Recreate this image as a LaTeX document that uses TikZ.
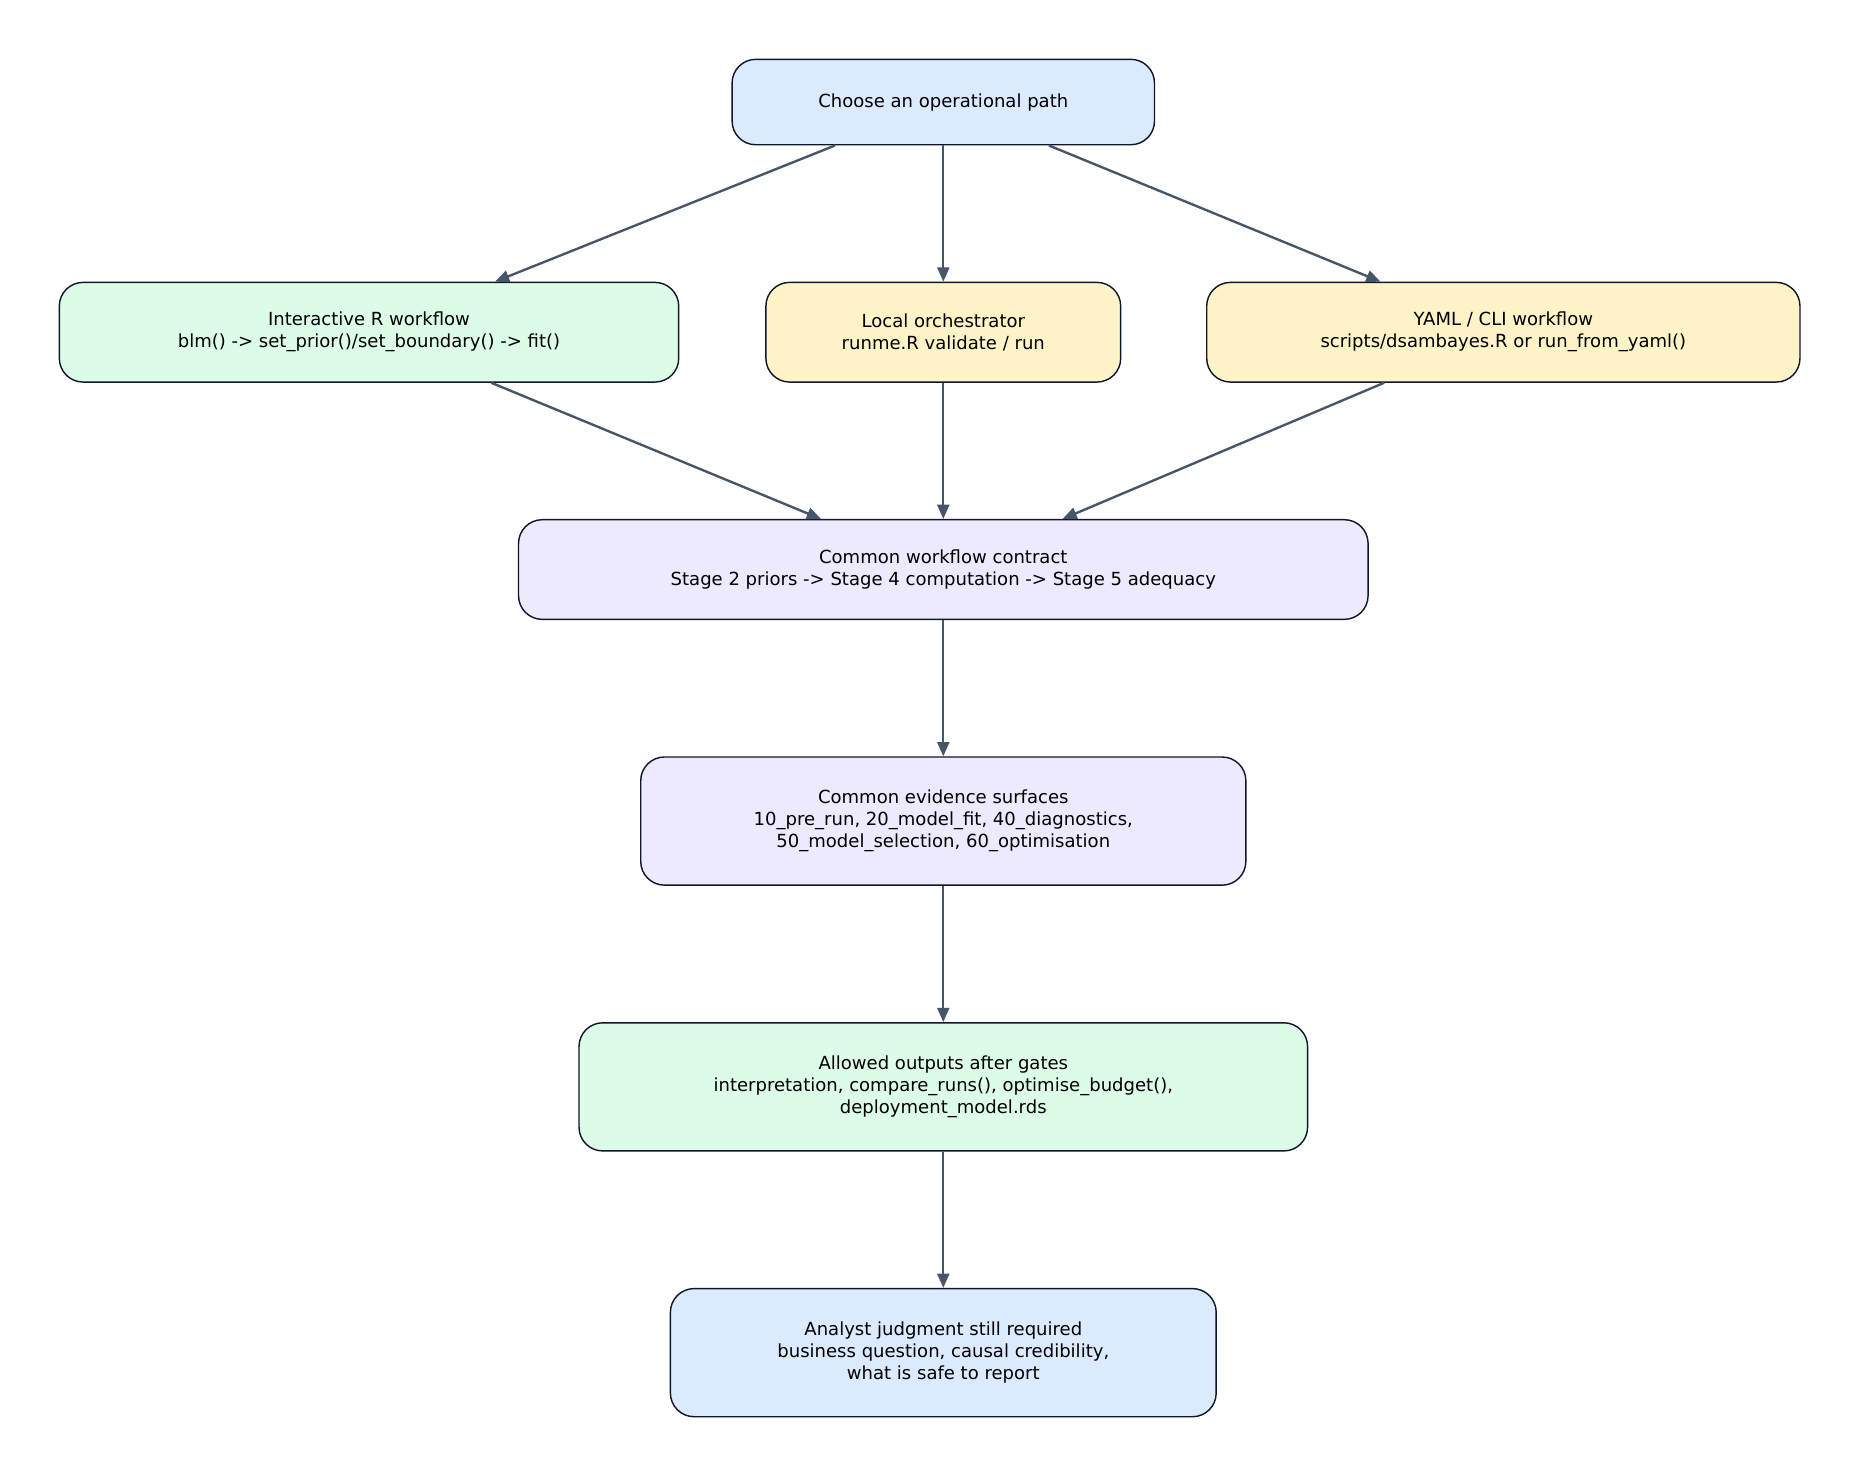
\documentclass[tikz,border=0pt]{standalone}
\usepackage{fontspec}
\setmainfont{DejaVu Sans}
\usetikzlibrary{arrows.meta}
\definecolor{cblue}{HTML}{DBEAFE}
\definecolor{cgreen}{HTML}{DCFCE7}
\definecolor{cyellow}{HTML}{FEF3C7}
\definecolor{cpurple}{HTML}{EDE9FE}
\definecolor{cedge}{HTML}{475569}
\definecolor{cborder}{HTML}{0F172A}
\begin{document}
\begin{tikzpicture}[x=0.5pt,y=-0.5pt,
  box/.style={draw=cborder,line width=0.6pt,rounded corners=10pt,align=center,
    font=\fontsize{7.6pt}{9.3pt}\selectfont,inner sep=0pt},
  conn/.style={draw=cedge,line width=1pt,-{Triangle[length=6pt,width=5pt]}}]
\useasboundingbox (0,0) rectangle (1560,1240);
\fill[white] (0,0) rectangle (1560,1240);
\node[box,fill=cblue,minimum width=178pt,minimum height=36pt] (top) at (795,86) {Choose an operational path};
\node[box,fill=cgreen,minimum width=261pt,minimum height=42pt] (ia) at (311,280) {Interactive R workflow\\blm() -> set\_prior()/set\_boundary() -> fit()};
\node[box,fill=cyellow,minimum width=149.5pt,minimum height=42pt] (lo) at (795,280) {Local orchestrator\\runme.R validate / run};
\node[box,fill=cyellow,minimum width=250pt,minimum height=42pt] (ya) at (1267,280) {YAML / CLI workflow\\scripts/dsambayes.R or run\_from\_yaml()};
\node[box,fill=cpurple,minimum width=358pt,minimum height=42pt] (cc) at (795,480) {Common workflow contract\\Stage 2 priors -> Stage 4 computation -> Stage 5 adequacy};
\node[box,fill=cpurple,minimum width=255pt,minimum height=54pt] (ev) at (795,692) {Common evidence surfaces\\10\_pre\_run, 20\_model\_fit, 40\_diagnostics,\\50\_model\_selection, 60\_optimisation};
\node[box,fill=cgreen,minimum width=307pt,minimum height=54pt] (al) at (795,916) {Allowed outputs after gates\\interpretation, compare\_runs(), optimise\_budget(),\\deployment\_model.rds};
\node[box,fill=cblue,minimum width=230pt,minimum height=54pt] (an) at (795,1140) {Analyst judgment still required\\business question, causal credibility,\\what is safe to report};
\draw[conn] (top) -- (ia);
\draw[conn] (top) -- (lo);
\draw[conn] (top) -- (ya);
\draw[conn] (ia) -- (cc);
\draw[conn] (lo) -- (cc);
\draw[conn] (ya) -- (cc);
\draw[conn] (cc) -- (ev);
\draw[conn] (ev) -- (al);
\draw[conn] (al) -- (an);
\end{tikzpicture}
\end{document}
